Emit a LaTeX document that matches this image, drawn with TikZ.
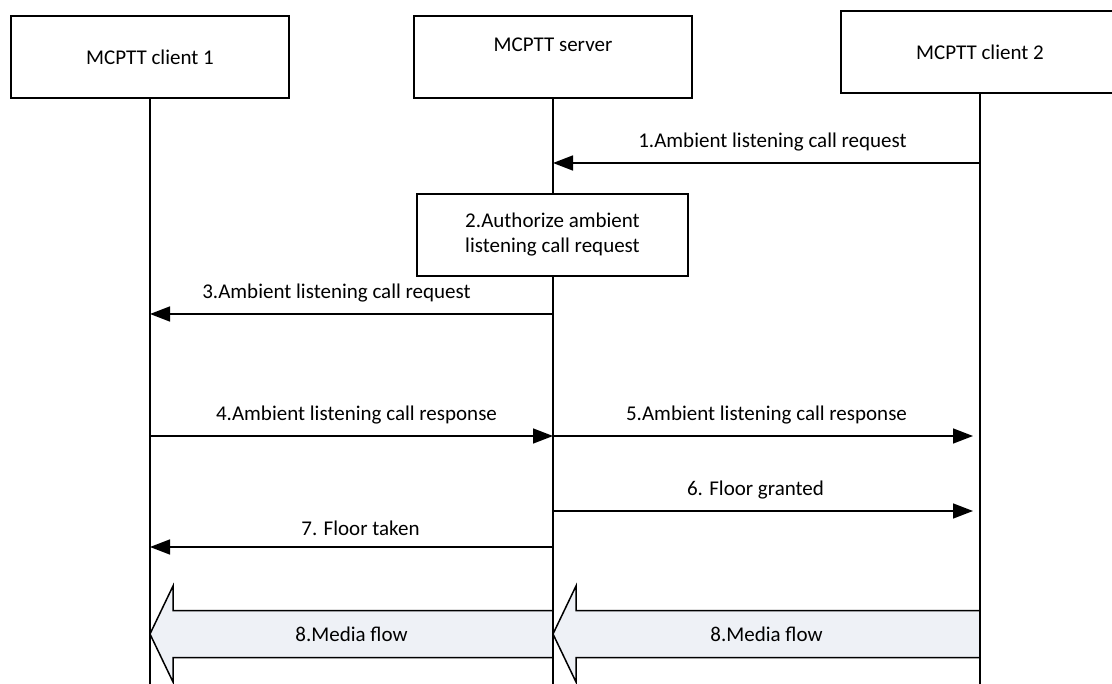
\documentclass[tikz,border=0pt]{standalone}
\usepackage{fontspec}
\setmainfont{Carlito}
\usetikzlibrary{arrows.meta, positioning, calc}

\definecolor{flowfill}{HTML}{EEF1F6}

\tikzset{
  entity/.style={draw, line width=1.6pt, fill=white, minimum width=278pt, minimum height=82pt, inner sep=0pt, align=center},
  lifeline/.style={line width=1.5pt},
  msg/.style={line width=1.5pt, -{Triangle[length=20pt, width=15pt]}},
  msglabel/.style={above=11pt, inner sep=0pt},
  flow/.style={draw, line width=1.5pt, fill=flowfill, line join=miter},
}

% media flow arrow from tail #1 to tip #2
\newcommand{\mediaflow}[2]{%
  \draw[flow] ($(#1)+(0,-23.5)$) -- ($(#2)+(23,-23.5)$) -- ($(#2)+(23,-48)$) -- (#2)
    -- ($(#2)+(23,48)$) -- ($(#2)+(23,23.5)$) -- ($(#1)+(0,23.5)$) -- cycle;
  \path (#1) -- (#2) node[midway] {8.Media flow};
}

\begin{document}
\begin{tikzpicture}[x=1pt, y=-1pt, font=\fontsize{21}{25}\selectfont]
\useasboundingbox (0,0) rectangle (1112,684);

% entities
\node[entity] (c1) at (150,57) {MCPTT client 1};
\node[entity] (srv) at (553,57) {MCPTT server\\\mbox{}};
\node[entity] (c2) at (980,52) {MCPTT client 2};

\coordinate (c1end) at (c1 |- 0,690);
\coordinate (srvend) at (srv |- 0,690);
\coordinate (c2end) at (c2 |- 0,690);

% media flows
\coordinate (f1tip) at (c1 |- 0,634);
\coordinate (f1tail) at (srv |- 0,634);
\coordinate (f2tip) at (srv |- 0,634);
\coordinate (f2tail) at (c2 |- 0,634);
\mediaflow{f1tail}{f1tip}
\mediaflow{f2tail}{f2tip}

% lifelines
\draw[lifeline] (c1) -- (c1end);
\draw[lifeline] (srv) -- (srvend);
\draw[lifeline] (c2) -- (c2end);

\node[entity, minimum width=271pt] (auth) at (552.5,235) {2.Authorize ambient\\listening call request};

% messages
\draw[msg] (c2 |- 0,163) -- (srv |- 0,163) node[midway, msglabel, xshift=6pt] {1.Ambient listening call request};
\draw[msg] (srv |- 0,314) -- (c1 |- 0,314) node[midway, msglabel, xshift=-15pt] {3.Ambient listening call request};
\draw[msg] (c1 |- 0,436) -- (srv |- 0,436) node[midway, msglabel, xshift=5pt] {4.Ambient listening call response};
\draw[msg, shorten >=7pt] (srv |- 0,436) -- (c2 |- 0,436) node[midway, msglabel] {5.Ambient listening call response};
\draw[msg, shorten >=7pt] (srv |- 0,511) -- (c2 |- 0,511) node[midway, msglabel, xshift=-11pt] {6. Floor granted};
\draw[msg] (srv |- 0,547) -- (c1 |- 0,547) node[midway, msglabel, xshift=9pt] {7. Floor taken};
\end{tikzpicture}
\end{document}
